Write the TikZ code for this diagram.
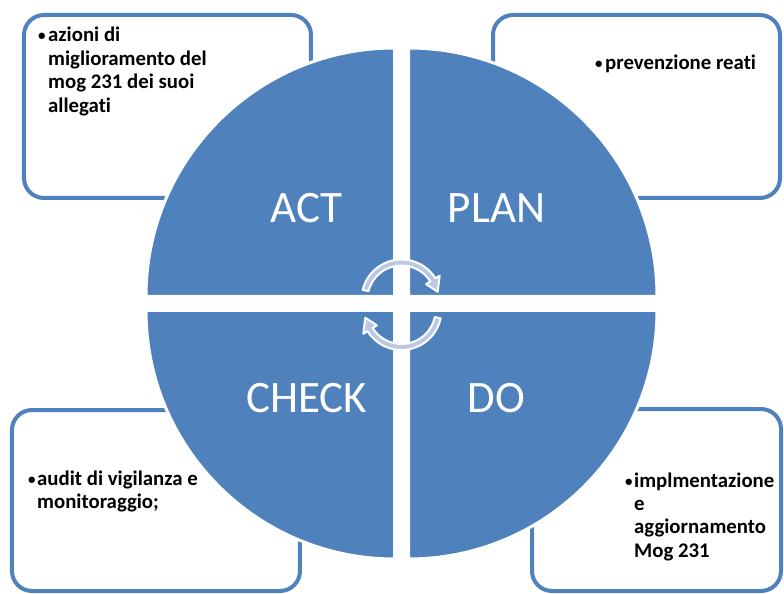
\documentclass[tikz,border=0pt]{standalone}
\usepackage{fontspec}
\setmainfont{Carlito}[Ligatures=NoCommon]
\usepackage{tikz}
\usetikzlibrary{positioning}
\definecolor{smartblue}{RGB}{79,129,189}
\definecolor{cycblue}{RGB}{186,200,227}

\begin{document}
\begin{tikzpicture}[x=1pt,y=1pt,
  box/.style={draw=smartblue, line width=4pt, rounded corners=20pt, inner sep=0pt},
  quad/.style={fill=smartblue, draw=white, line width=3pt},
  phase/.style={text=white, font=\fontsize{45}{54}\selectfont},
  bul/.style={anchor=base west, inner sep=0pt, font=\fontsize{15}{18}\selectfont\bfseries},
  item/.style={anchor=base west, inner sep=0pt, font=\fontsize{20.8}{23.4}\selectfont\bfseries},
  cyc/.style={fill=cycblue, draw=white, line width=2pt, line join=round}]
\useasboundingbox (-401.5,-290.5) rectangle (382.5,303.5);

% boxes behind the circle
\node[box, minimum width=287pt, minimum height=183pt] (actbox) at (-234,197) {};
\node[box, minimum width=287pt, minimum height=183pt] (planbox) at (235,197) {};
\node[box, minimum width=288pt, minimum height=181pt] (checkbox) at (-245.5,-197) {};
\node[box, minimum width=249pt, minimum height=182pt] (dobox) at (255,-196.5) {};

% the four quarters
\draw[quad] (-7,7) -- ++(-248.5,0) arc[start angle=180, end angle=90, radius=248.5] -- cycle;
\draw[quad] (7,7) -- ++(248.5,0) arc[start angle=0, end angle=90, radius=248.5] -- cycle;
\draw[quad] (-7,-7) -- ++(-248.5,0) arc[start angle=180, end angle=270, radius=248.5] -- cycle;
\draw[quad] (7,-7) -- ++(248.5,0) arc[start angle=0, end angle=-90, radius=248.5] -- cycle;

\node[phase] (act) at (-95,95) {ACT};
\node[phase] (plan) at (95,95) {PLAN};
\node[phase] (check) at (-95,-95) {CHECK};
\node[phase] (do) at (95,-95) {DO};

% cycle arrows
\begin{scope}[shift={(0,4)}]
\filldraw[cyc] (166:40) arc[start angle=166, end angle=32, radius=40] -- (32:45) -- (12:37)
  -- (32:29) -- (32:34) arc[start angle=32, end angle=166, radius=34] -- cycle;
\end{scope}
\begin{scope}[shift={(0,-6.5)}]
\filldraw[cyc] (-12:40) arc[start angle=-12, end angle=-148, radius=40] -- (-148:45) -- (-168:37)
  -- (-148:29) -- (-148:34) arc[start angle=-148, end angle=-12, radius=34] -- cycle;
\end{scope}

% box texts
\node[bul] (actdot) at (-363.5,262.5) {\textbullet};
\node[item] (acttext) at (-353.5,261.5) {\begin{tabular}[t]{@{}l@{}}azioni di\\miglioramento del\\mog 231 dei suoi\\allegati\end{tabular}};
\node[bul] (plandot) at (193.5,234.5) {\textbullet};
\node[item] (plantext) at (203.5,233.5) {prevenzione reati};
\node[bul] (checkdot) at (-373.5,-180.5) {\textbullet};
\node[item] (checktext) at (-364.5,-181.5) {\begin{tabular}[t]{@{}l@{}}audit di vigilanza e\\monitoraggio;\end{tabular}};
\node[bul] (dodot) at (223.5,-182.5) {\textbullet};
\node[item] (dotext) at (232.5,-183.5) {\begin{tabular}[t]{@{}l@{}}implmentazione\\e\\aggiornamento\\Mog 231\end{tabular}};
\end{tikzpicture}
\end{document}
